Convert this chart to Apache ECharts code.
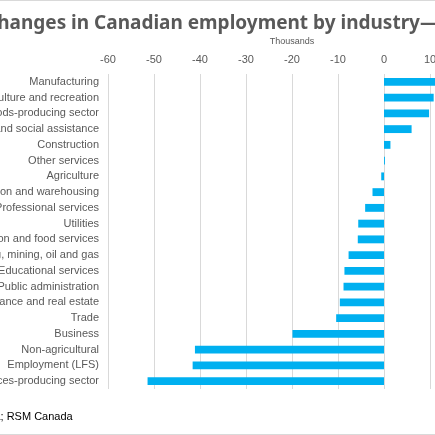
<!DOCTYPE html>
<html>
<head>
<meta charset="utf-8">
<script src="https://cdn.jsdelivr.net/npm/echarts@6/dist/echarts.min.js"></script>
<style>
  html, body { margin: 0; padding: 0; width: 435px; height: 435px; overflow: hidden; background: #fff; }
  #wrap { position: relative; width: 435px; height: 435px; overflow: hidden; border-top: 1px solid #d9d9d9; border-bottom: 1px solid #d9d9d9; box-sizing: border-box; }
  #chart { position: absolute; left: -140px; top: -1px; width: 670px; height: 435px; }
</style>
</head>
<body>
<div id="wrap"><div id="chart"></div></div>
<script>
var industries = [
  'Manufacturing', 'Information, culture and recreation', 'Goods-producing sector',
  'Health care and social assistance', 'Construction', 'Other services', 'Agriculture',
  'Transportation and warehousing', 'Professional services', 'Utilities',
  'Accommodation and food services', 'Forestry, fishing, mining, oil and gas',
  'Educational services', 'Public administration', 'Finance, insurance and real estate',
  'Trade', 'Business', 'Non-agricultural', 'Employment (LFS)', 'Services-producing sector'
];
var changes = [11.5, 10.8, 9.8, 6.0, 1.4, 0.2, -0.6, -2.5, -4.1, -5.6, -5.7, -7.7, -8.6, -8.8, -9.6, -10.4, -19.9, -41.1, -41.6, -51.4];
var xTicks = [-60, -50, -40, -30, -20, -10, 0, 10, 20];

var chart = echarts.init(document.getElementById('chart'));
chart.setOption({
  animation: false,
  title: {
    text: 'Changes in Canadian employment by industry\u2014August 2025',
    left: 120, top: 9,
    textStyle: { fontFamily: 'Noto Sans', fontSize: 19, fontWeight: 'bold', color: '#595959' }
  },
  graphic: [{
    type: 'text', left: 14, top: 411,
    style: { text: 'Source: Statistics Canada; RSM Canada', font: '11px "Liberation Sans"', fill: '#000' }
  }],
  grid: { left: 248, right: 54, top: 74, bottom: 46 },
  xAxis: {
    type: 'value', position: 'top', min: xTicks[0], max: xTicks[xTicks.length - 1], interval: 10,
    name: 'Thousands', nameLocation: 'middle', nameGap: 28,
    nameTextStyle: { fontSize: 9, color: '#595959', fontFamily: 'Liberation Sans' },
    axisLabel: { fontSize: 11, color: '#595959', fontFamily: 'Liberation Sans', margin: 9 },
    axisLine: { show: false }, axisTick: { show: false },
    splitLine: { lineStyle: { color: '#d9d9d9' } }
  },
  yAxis: {
    type: 'category', inverse: true, data: industries,
    axisLabel: { fontSize: 11, color: '#595959', fontFamily: 'Liberation Sans', margin: 9 },
    axisLine: { show: false }, axisTick: { show: false }
  },
  series: [{
    type: 'bar', data: changes, barWidth: '50%',
    itemStyle: { color: '#00b0f0' }
  }]
});
</script>
</body>
</html>
